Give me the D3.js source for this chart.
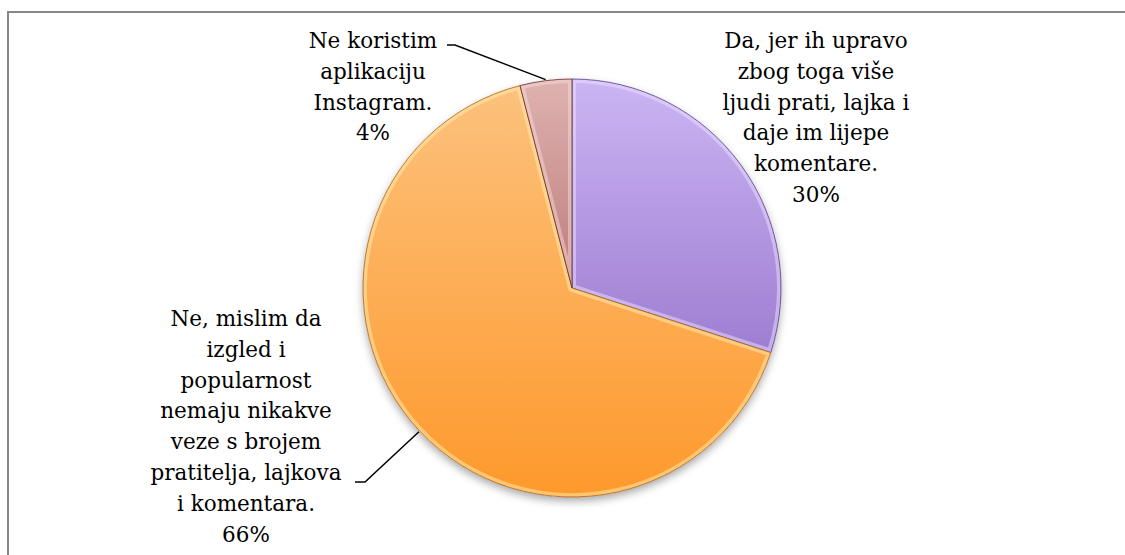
<!DOCTYPE html>
<html>
<head>
<meta charset="utf-8">
<script src="https://cdn.jsdelivr.net/npm/d3@7"></script>
<style>
  html, body { margin: 0; padding: 0; background: #fff; }
  svg { display: block; }
  .lbl { font-family: "DejaVu Serif", serif; font-size: 21.5px; fill: #000; }
</style>
</head>
<body>
<svg id="chart" width="1125" height="555"></svg>
<script>
// data
const categories = [
    'Da, jer ih upravo zbog toga više ljudi prati, lajka i daje im lijepe komentare.',
    'Ne, mislim da izgled i popularnost nemaju nikakve veze s brojem pratitelja, lajkova i komentara.',
    'Ne koristim aplikaciju Instagram.'
];
const values = [30, 66, 4];
const labelLines = [
    ['Da, jer ih upravo', 'zbog toga više', 'ljudi prati, lajka i', 'daje im lijepe', 'komentare.'],
    ['Ne, mislim da', 'izgled i', 'popularnost', 'nemaju nikakve', 'veze s brojem', 'pratitelja, lajkova', 'i komentara.'],
    ['Ne koristim', 'aplikaciju', 'Instagram.']
];
const percentLabels = ['30%', '66%', '4%'];

// layout
const W = 1125, H = 555;
const cx = 572, cy = 288, R = 209;
const lineH = 30.8;
const labelPos = [
    { x: 816, y: 48 },   // first baseline
    { x: 246, y: 326 },
    { x: 373, y: 48 }
];
const leaderBends = [null, { bx: 365, by: 482, ex: 355 }, { bx: 455, by: 45, ex: 447 }];

const fills = [
    { top: '#cbb5f3', bottom: '#8760c0', edge: '#5a3a90', light: '#ece2ff' },
    { top: '#fcc27e', bottom: '#fe992c', edge: '#b0621a', light: '#fff0b0' },
    { top: '#deb2b0', bottom: '#9b4644', edge: '#652826', light: '#f6dcda' }
];

const svg = d3.select('#chart');
const defs = svg.append('defs');

defs.append('filter').attr('id', 'shadow')
    .attr('x', '-10%').attr('y', '-10%').attr('width', '120%').attr('height', '125%')
    .append('feDropShadow')
    .attr('dx', 0).attr('dy', 4).attr('stdDeviation', 4)
    .attr('flood-color', '#000').attr('flood-opacity', 0.35);

// gradients live in the pie group's space (origin = pie centre)
fills.forEach((f, i) => {
    const g = defs.append('linearGradient').attr('id', 'grad' + i)
        .attr('gradientUnits', 'userSpaceOnUse')
        .attr('x1', 0).attr('y1', -R).attr('x2', 0).attr('y2', R);
    g.append('stop').attr('offset', '0%').attr('stop-color', f.top);
    g.append('stop').attr('offset', '100%').attr('stop-color', f.bottom);
});

// frame (right and bottom are cut off in the original)
svg.append('path')
    .attr('d', `M8,${H} V12 H${W}`)
    .attr('fill', 'none')
    .attr('stroke', '#878787')
    .attr('stroke-width', 2);

const pie = d3.pie().sort(null).value((d) => d)(values);
const arc = d3.arc().innerRadius(0).outerRadius(R);

const pieG = svg.append('g').attr('transform', `translate(${cx},${cy})`);

pieG.append('circle').attr('r', R).attr('fill', '#fff').attr('filter', 'url(#shadow)');

pie.forEach((d, i) => {
    defs.append('clipPath').attr('id', 'clip' + i)
        .append('path').attr('d', arc(d));
});

const slices = pieG.selectAll('g.slice')
    .data(pie)
    .join('g')
    .attr('class', 'slice');

slices.append('path')
    .attr('d', arc)
    .attr('fill', (d, i) => `url(#grad${i})`);

// bevel highlight: wide light stroke clipped to the slice
slices.append('path')
    .attr('d', arc)
    .attr('fill', 'none')
    .attr('stroke', (d, i) => fills[i].light)
    .attr('stroke-width', 8)
    .attr('stroke-opacity', 0.5)
    .attr('stroke-linejoin', 'round')
    .attr('clip-path', (d, i) => `url(#clip${i})`);

slices.append('path')
    .attr('d', arc)
    .attr('fill', 'none')
    .attr('stroke', (d, i) => fills[i].edge)
    .attr('stroke-width', 1)
    .attr('stroke-opacity', 0.8);

// leader lines
pie.forEach((d, i) => {
    const b = leaderBends[i];
    if (!b) return;
    const mid = (d.startAngle + d.endAngle) / 2;
    const sx = cx + Math.sin(mid) * (R + 1);
    const sy = cy - Math.cos(mid) * (R + 1);
    svg.append('polyline')
        .attr('points', `${sx},${sy} ${b.bx},${b.by} ${b.ex},${b.by}`)
        .attr('fill', 'none')
        .attr('stroke', '#000')
        .attr('stroke-width', 1.5);
});

// labels
labelLines.forEach((lines, i) => {
    const t = svg.append('text')
        .attr('class', 'lbl')
        .attr('text-anchor', 'middle')
        .attr('x', labelPos[i].x)
        .attr('y', labelPos[i].y);
    lines.concat([percentLabels[i]]).forEach((ln, j) => {
        t.append('tspan')
            .attr('x', labelPos[i].x)
            .attr('y', labelPos[i].y + j * lineH)
            .text(ln);
    });
});
</script>
</body>
</html>
